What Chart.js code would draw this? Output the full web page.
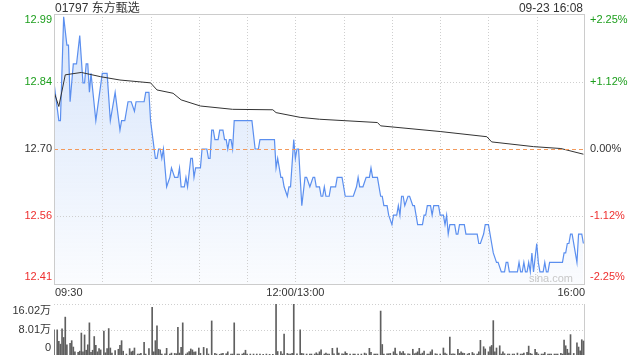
<!DOCTYPE html>
<html>
<head>
<meta charset="utf-8">
<script src="https://cdn.jsdelivr.net/npm/chart.js@4/dist/chart.umd.min.js"></script>
<style>
body { margin: 0; background: #fff; }
#wrap { position: relative; width: 640px; height: 360px; overflow: hidden; }
#price { position: absolute; left: 0; top: 0; }
#vol { position: absolute; left: 0; top: 300px; }
</style>
</head>
<body>
<div id="wrap">
<canvas id="price" width="640" height="300"></canvas>
<canvas id="vol" width="640" height="60"></canvas>
</div>
<script>
// chart data
const title = '01797 东方甄选';
const stamp = '09-23 16:08';
const prevClose = 12.70;
const pctTicks = [2.25, 1.12, 0, -1.12, -2.25];
const timeTicks = [0, 150, 330];
const timeLabels = ['09:30', '12:00/13:00', '16:00'];
const volTicks = [16.02, 8.01, 0];
const volLabels = ['16.02万', '8.01万', '0'];

// minutes since 09:30 (lunch break removed)
const priceTime = [0,3,4,6,8,9,10,12,14,16,18,19,20,21,22,23,26,30,33,35,38,41,42,44,46,48,50,51,56,57,59,60,63,64,65,66,67,68,70,72,73,75,77,78,79,81,82,83,85,86,87,88,91,92,95,96,97,98,99,100,102,103,105,106,107,108,109,110,111,112,123,125,127,128,137,138,139,141,142,143,145,146,147,149,150,151,152,154,156,157,159,161,162,163,165,166,167,168,169,171,172,175,176,179,181,186,188,189,190,192,194,196,197,198,201,203,204,205,207,208,210,211,213,214,215,216,217,218,220,221,223,224,226,229,230,231,232,234,235,236,239,240,242,243,244,245,246,249,250,251,252,255,256,263,264,265,267,268,270,271,272,273,275,276,278,280,281,282,283,288,289,290,291,292,293,294,295,296,297,298,300,301,302,304,305,306,307,308,316,317,318,319,320,321,322,325,326,328,329];
const priceValue = [12.84,12.76,12.76,12.98,12.92,12.92,12.80,12.88,12.88,12.94,12.84,12.84,12.88,12.88,12.82,12.86,12.76,12.86,12.86,12.76,12.82,12.74,12.76,12.76,12.80,12.80,12.78,12.80,12.80,12.82,12.82,12.76,12.68,12.68,12.70,12.70,12.68,12.70,12.62,12.64,12.66,12.64,12.64,12.66,12.62,12.62,12.64,12.62,12.68,12.68,12.64,12.66,12.66,12.70,12.70,12.68,12.68,12.74,12.74,12.72,12.72,12.74,12.74,12.72,12.72,12.70,12.72,12.72,12.70,12.76,12.76,12.70,12.70,12.72,12.72,12.66,12.68,12.64,12.64,12.62,12.60,12.62,12.62,12.72,12.68,12.70,12.70,12.58,12.64,12.64,12.62,12.64,12.64,12.62,12.62,12.60,12.60,12.62,12.60,12.60,12.62,12.62,12.64,12.64,12.60,12.60,12.62,12.64,12.62,12.62,12.64,12.64,12.66,12.64,12.64,12.60,12.60,12.58,12.58,12.56,12.54,12.56,12.56,12.58,12.56,12.60,12.60,12.58,12.60,12.60,12.58,12.58,12.54,12.54,12.56,12.56,12.58,12.58,12.56,12.58,12.58,12.56,12.56,12.54,12.56,12.52,12.54,12.54,12.52,12.52,12.54,12.54,12.52,12.52,12.50,12.50,12.52,12.54,12.54,12.52,12.50,12.48,12.46,12.46,12.44,12.44,12.46,12.46,12.44,12.44,12.46,12.44,12.44,12.46,12.44,12.44,12.46,12.44,12.48,12.44,12.50,12.46,12.44,12.44,12.46,12.44,12.44,12.46,12.46,12.48,12.48,12.50,12.50,12.52,12.52,12.46,12.52,12.52,12.50];

const avgTime = [0,3,7,17,29,41,60,64,74,79,91,111,136,138,153,165,201,203,240,269,272,298,315,329];
const avgPrice = [12.821,12.790,12.857,12.862,12.853,12.846,12.840,12.825,12.818,12.804,12.791,12.784,12.783,12.777,12.767,12.763,12.756,12.749,12.737,12.726,12.715,12.705,12.701,12.689];

// volume in 万 shares
const volTime = [0,2,3,4,5,6,7,8,10,11,12,13,15,16,17,18,19,20,21,22,23,24,25,26,27,28,29,31,32,33,34,35,36,38,40,41,42,43,45,47,48,49,50,52,53,54,56,57,59,61,62,63,64,65,66,67,69,70,72,73,75,76,77,78,79,80,82,83,84,85,86,87,88,90,91,93,95,96,98,100,101,103,104,105,107,108,110,111,112,114,115,117,118,119,120,122,124,126,128,130,132,134,136,138,139,141,142,143,145,146,147,148,149,151,153,154,155,157,159,160,162,163,164,165,166,168,169,170,171,173,174,176,177,179,180,181,182,184,186,187,189,191,193,194,196,197,199,200,201,203,204,205,207,208,209,211,212,213,215,216,217,218,220,221,223,224,225,226,227,228,229,230,232,233,234,235,237,238,240,242,243,244,246,247,248,249,251,252,253,254,255,257,258,260,261,263,264,265,267,268,270,271,272,273,274,275,277,278,279,280,282,283,285,286,288,290,291,292,294,295,296,297,299,300,301,303,304,305,307,308,309,311,312,313,315,316,317,318,319,320,321,323,325,326,327,328,329];
const volValue = [7.9,7.9,4.3,3.4,8.2,5.5,11.9,3.2,3.7,4.5,2.5,1.0,0.8,1.2,6.9,1.0,6.3,1.5,3.2,10.1,0.8,1.5,5.8,3.0,1.0,2.0,1.6,7.5,0.7,2.0,8.3,2.2,0.6,1.4,1.8,3.0,4.5,1.2,0.3,2.0,1.0,1.2,2.2,0.3,0.3,0.5,4.0,0.3,2.0,15.0,1.0,4.5,9.2,1.8,1.6,0.3,0.4,2.1,0.3,0.6,0.5,0.4,8.7,0.6,2.4,10.1,0.3,0.7,1.1,1.9,1.6,0.9,1.0,2.2,0.5,2.4,2.0,0.3,10.7,0.5,0.3,0.2,0.4,0.5,0.4,1.0,0.3,0.3,10.1,0.3,0.3,0.3,0.6,1.5,0.3,0.3,0.3,0.3,0.3,0.2,0.3,0.2,0.2,16.02,1.1,1.1,0.3,6.6,0.5,0.3,0.3,0.5,16.02,0.4,7.9,0.5,0.4,0.3,0.3,0.3,0.3,0.7,0.3,1.0,1.6,0.3,0.6,0.3,0.3,2.1,0.4,2.2,0.6,0.4,0.3,1.0,0.5,0.3,0.3,0.3,0.3,0.3,0.6,0.4,2.1,0.8,0.3,0.3,0.3,13.8,3.3,0.3,0.4,0.4,0.5,1.0,2.2,0.3,1.1,0.6,1.1,0.4,0.4,0.3,1.8,0.4,0.6,1.0,2.1,0.3,0.6,1.2,0.3,0.3,1.0,1.6,0.4,0.3,0.3,2.2,0.6,0.3,5.6,0.3,0.4,0.3,1.8,0.5,1.0,0.6,0.5,0.3,0.5,0.8,0.4,0.3,1.0,4.6,2.6,1.9,1.0,2.6,3.0,10.8,1.0,2.2,2.9,0.3,1.0,0.4,0.3,0.3,0.3,0.3,0.6,0.3,0.3,0.6,0.8,2.8,0.5,0.3,1.8,0.8,0.3,0.3,0.3,0.8,0.3,0.3,0.3,0.3,0.3,0.3,0.5,0.3,4.7,2.9,1.8,0.6,6.4,0.5,3.8,2.5,1.3,4.8,4.4];

const FONT = "11px 'Liberation Sans', Arial, 'Noto Sans CJK SC', sans-serif";
const TITLE_FONT = "12px 'Liberation Sans', Arial, 'Noto Sans CJK SC', sans-serif";
const GREEN = '#1c9e1c';
const RED = '#ee2f2f';

function hline(ctx, x1, x2, y) {
    ctx.beginPath();
    ctx.moveTo(x1, y);
    ctx.lineTo(x2, y);
    ctx.stroke();
}
function vline(ctx, x, y1, y2) {
    ctx.beginPath();
    ctx.moveTo(x, y1);
    ctx.lineTo(x, y2);
    ctx.stroke();
}

const priceDeco = {
    id: 'priceDeco',
    beforeDatasetsDraw(chart) {
        const ctx = chart.ctx, a = chart.chartArea;
        const x = chart.scales.x, y = chart.scales.y;
        ctx.save();
        ctx.lineWidth = 1;
        ctx.strokeStyle = '#cfcfcf';
        ctx.setLineDash([1, 2]);
        // every half hour
        for (let t = 30; t < 330; t += 30) {
            vline(ctx, Math.round(x.getPixelForValue(t)) + 0.5, a.top, a.bottom);
        }
        pctTicks.forEach(p => {
            if (p === 0 || p === pctTicks[0] || p === pctTicks[pctTicks.length - 1]) return;
            const py = Math.round(y.getPixelForValue(prevClose * (1 + p / 100))) + 0.5;
            hline(ctx, a.left, a.right, py);
        });
        ctx.restore();
    },
    afterDatasetsDraw(chart) {
        const ctx = chart.ctx, a = chart.chartArea, y = chart.scales.y;
        ctx.save();
        ctx.lineWidth = 1;
        ctx.strokeStyle = '#f39a5c';
        ctx.setLineDash([4, 3]);
        hline(ctx, a.left, a.right, Math.round(y.getPixelForValue(prevClose)) + 0.5);
        ctx.restore();
    },
    afterDraw(chart) {
        const ctx = chart.ctx, a = chart.chartArea;
        const x = chart.scales.x, y = chart.scales.y;
        ctx.save();
        ctx.lineWidth = 1;
        ctx.strokeStyle = '#cccccc';
        ctx.strokeRect(a.left + 0.5, a.top + 0.5, a.right - a.left - 1, a.bottom - a.top);

        ctx.font = FONT;
        ctx.textBaseline = 'middle';
        pctTicks.forEach(p => {
            let py = y.getPixelForValue(prevClose * (1 + p / 100));
            py = Math.min(Math.max(py, a.top + 6), a.bottom - 7);
            ctx.fillStyle = p > 0 ? GREEN : (p < 0 ? RED : '#333');
            ctx.textAlign = 'right';
            ctx.fillText((prevClose * (1 + p / 100)).toFixed(2), a.left - 2, py);
            ctx.textAlign = 'left';
            ctx.fillText((p > 0 ? '+' : '') + p.toFixed(2) + '%', a.right + 5, py);
        });

        ctx.fillStyle = '#333';
        timeTicks.forEach((t, i) => {
            ctx.textAlign = i === 0 ? 'left' : (i === timeTicks.length - 1 ? 'right' : 'center');
            ctx.fillText(timeLabels[i], x.getPixelForValue(t) + (i === 0 ? 1 : 0), a.bottom + 9);
        });

        ctx.font = TITLE_FONT;
        ctx.textBaseline = 'alphabetic';
        ctx.textAlign = 'left';
        ctx.fillText(title, a.left + 1, a.top - 2);
        ctx.textAlign = 'right';
        ctx.fillText(stamp, a.right - 2, a.top - 2);

        ctx.font = FONT;
        ctx.fillStyle = '#c8c8c8';
        ctx.textBaseline = 'middle';
        ctx.fillText('sina.com', a.right - 12, a.bottom - 5);
        ctx.restore();
    }
};

const volDeco = {
    id: 'volDeco',
    beforeDatasetsDraw(chart) {
        const ctx = chart.ctx, a = chart.chartArea, y = chart.scales.y;
        ctx.save();
        ctx.lineWidth = 1;
        ctx.strokeStyle = '#cfcfcf';
        ctx.setLineDash([1, 2]);
        volTicks.forEach(v => {
            if (v === 0) return;
            hline(ctx, a.left, a.right, Math.round(y.getPixelForValue(v)) + 0.5);
        });
        ctx.setLineDash([]);
        ctx.strokeStyle = '#cccccc';
        vline(ctx, a.right - 0.5, a.top, a.bottom);
        ctx.restore();
    },
    afterDraw(chart) {
        const ctx = chart.ctx, a = chart.chartArea, y = chart.scales.y;
        ctx.save();
        ctx.font = FONT;
        ctx.fillStyle = '#333';
        ctx.textAlign = 'right';
        ctx.textBaseline = 'middle';
        volTicks.forEach((v, i) => {
            let py = y.getPixelForValue(v);
            py = Math.min(Math.max(py, a.top + 7), a.bottom - 7);
            ctx.fillText(volLabels[i], a.left - 3, py);
        });
        ctx.restore();
    }
};

new Chart(document.getElementById('price').getContext('2d'), {
    type: 'line',
    data: {
        datasets: [{
            label: 'avg',
            data: avgTime.map((t, i) => ({ x: t, y: avgPrice[i] })),
            borderColor: '#333333',
            borderWidth: 1,
            pointRadius: 0,
            fill: false,
            tension: 0
        }, {
            label: 'price',
            data: priceTime.map((t, i) => ({ x: t, y: priceValue[i] })),
            borderColor: '#5b8fef',
            borderWidth: 1.2,
            pointRadius: 0,
            tension: 0,
            fill: 'start',
            backgroundColor: function(context) {
                const area = context.chart.chartArea;
                if (!area) return 'rgba(120,165,240,0.15)';
                const g = context.chart.ctx.createLinearGradient(0, area.top, 0, area.bottom);
                g.addColorStop(0, 'rgba(110,160,240,0.28)');
                g.addColorStop(1, 'rgba(110,160,240,0.03)');
                return g;
            }
        }]
    },
    options: {
        responsive: false,
        animation: false,
        devicePixelRatio: 1,
        layout: { padding: { left: 54, right: 55, top: 14, bottom: 16 } },
        scales: {
            x: { type: 'linear', min: 0, max: 330, display: false },
            y: { min: prevClose * (1 + pctTicks[pctTicks.length - 1] / 100), max: prevClose * (1 + pctTicks[0] / 100), display: false }
        },
        plugins: {
            legend: { display: false },
            tooltip: { enabled: false },
            filler: { drawTime: 'beforeDatasetsDraw' }
        }
    },
    plugins: [priceDeco]
});

new Chart(document.getElementById('vol').getContext('2d'), {
    type: 'bar',
    data: {
        datasets: [{
            label: 'vol',
            data: volTime.map((t, i) => ({ x: t, y: volValue[i] })),
            backgroundColor: '#5f5f5f',
            barThickness: 1
        }]
    },
    options: {
        responsive: false,
        animation: false,
        devicePixelRatio: 1,
        layout: { padding: { left: 54, right: 55, top: 4, bottom: 5 } },
        scales: {
            x: { type: 'linear', min: 0, max: 330, offset: false, display: false },
            y: { min: 0, max: volTicks[0], display: false }
        },
        plugins: {
            legend: { display: false },
            tooltip: { enabled: false }
        }
    },
    plugins: [volDeco]
});
</script>
</body>
</html>
